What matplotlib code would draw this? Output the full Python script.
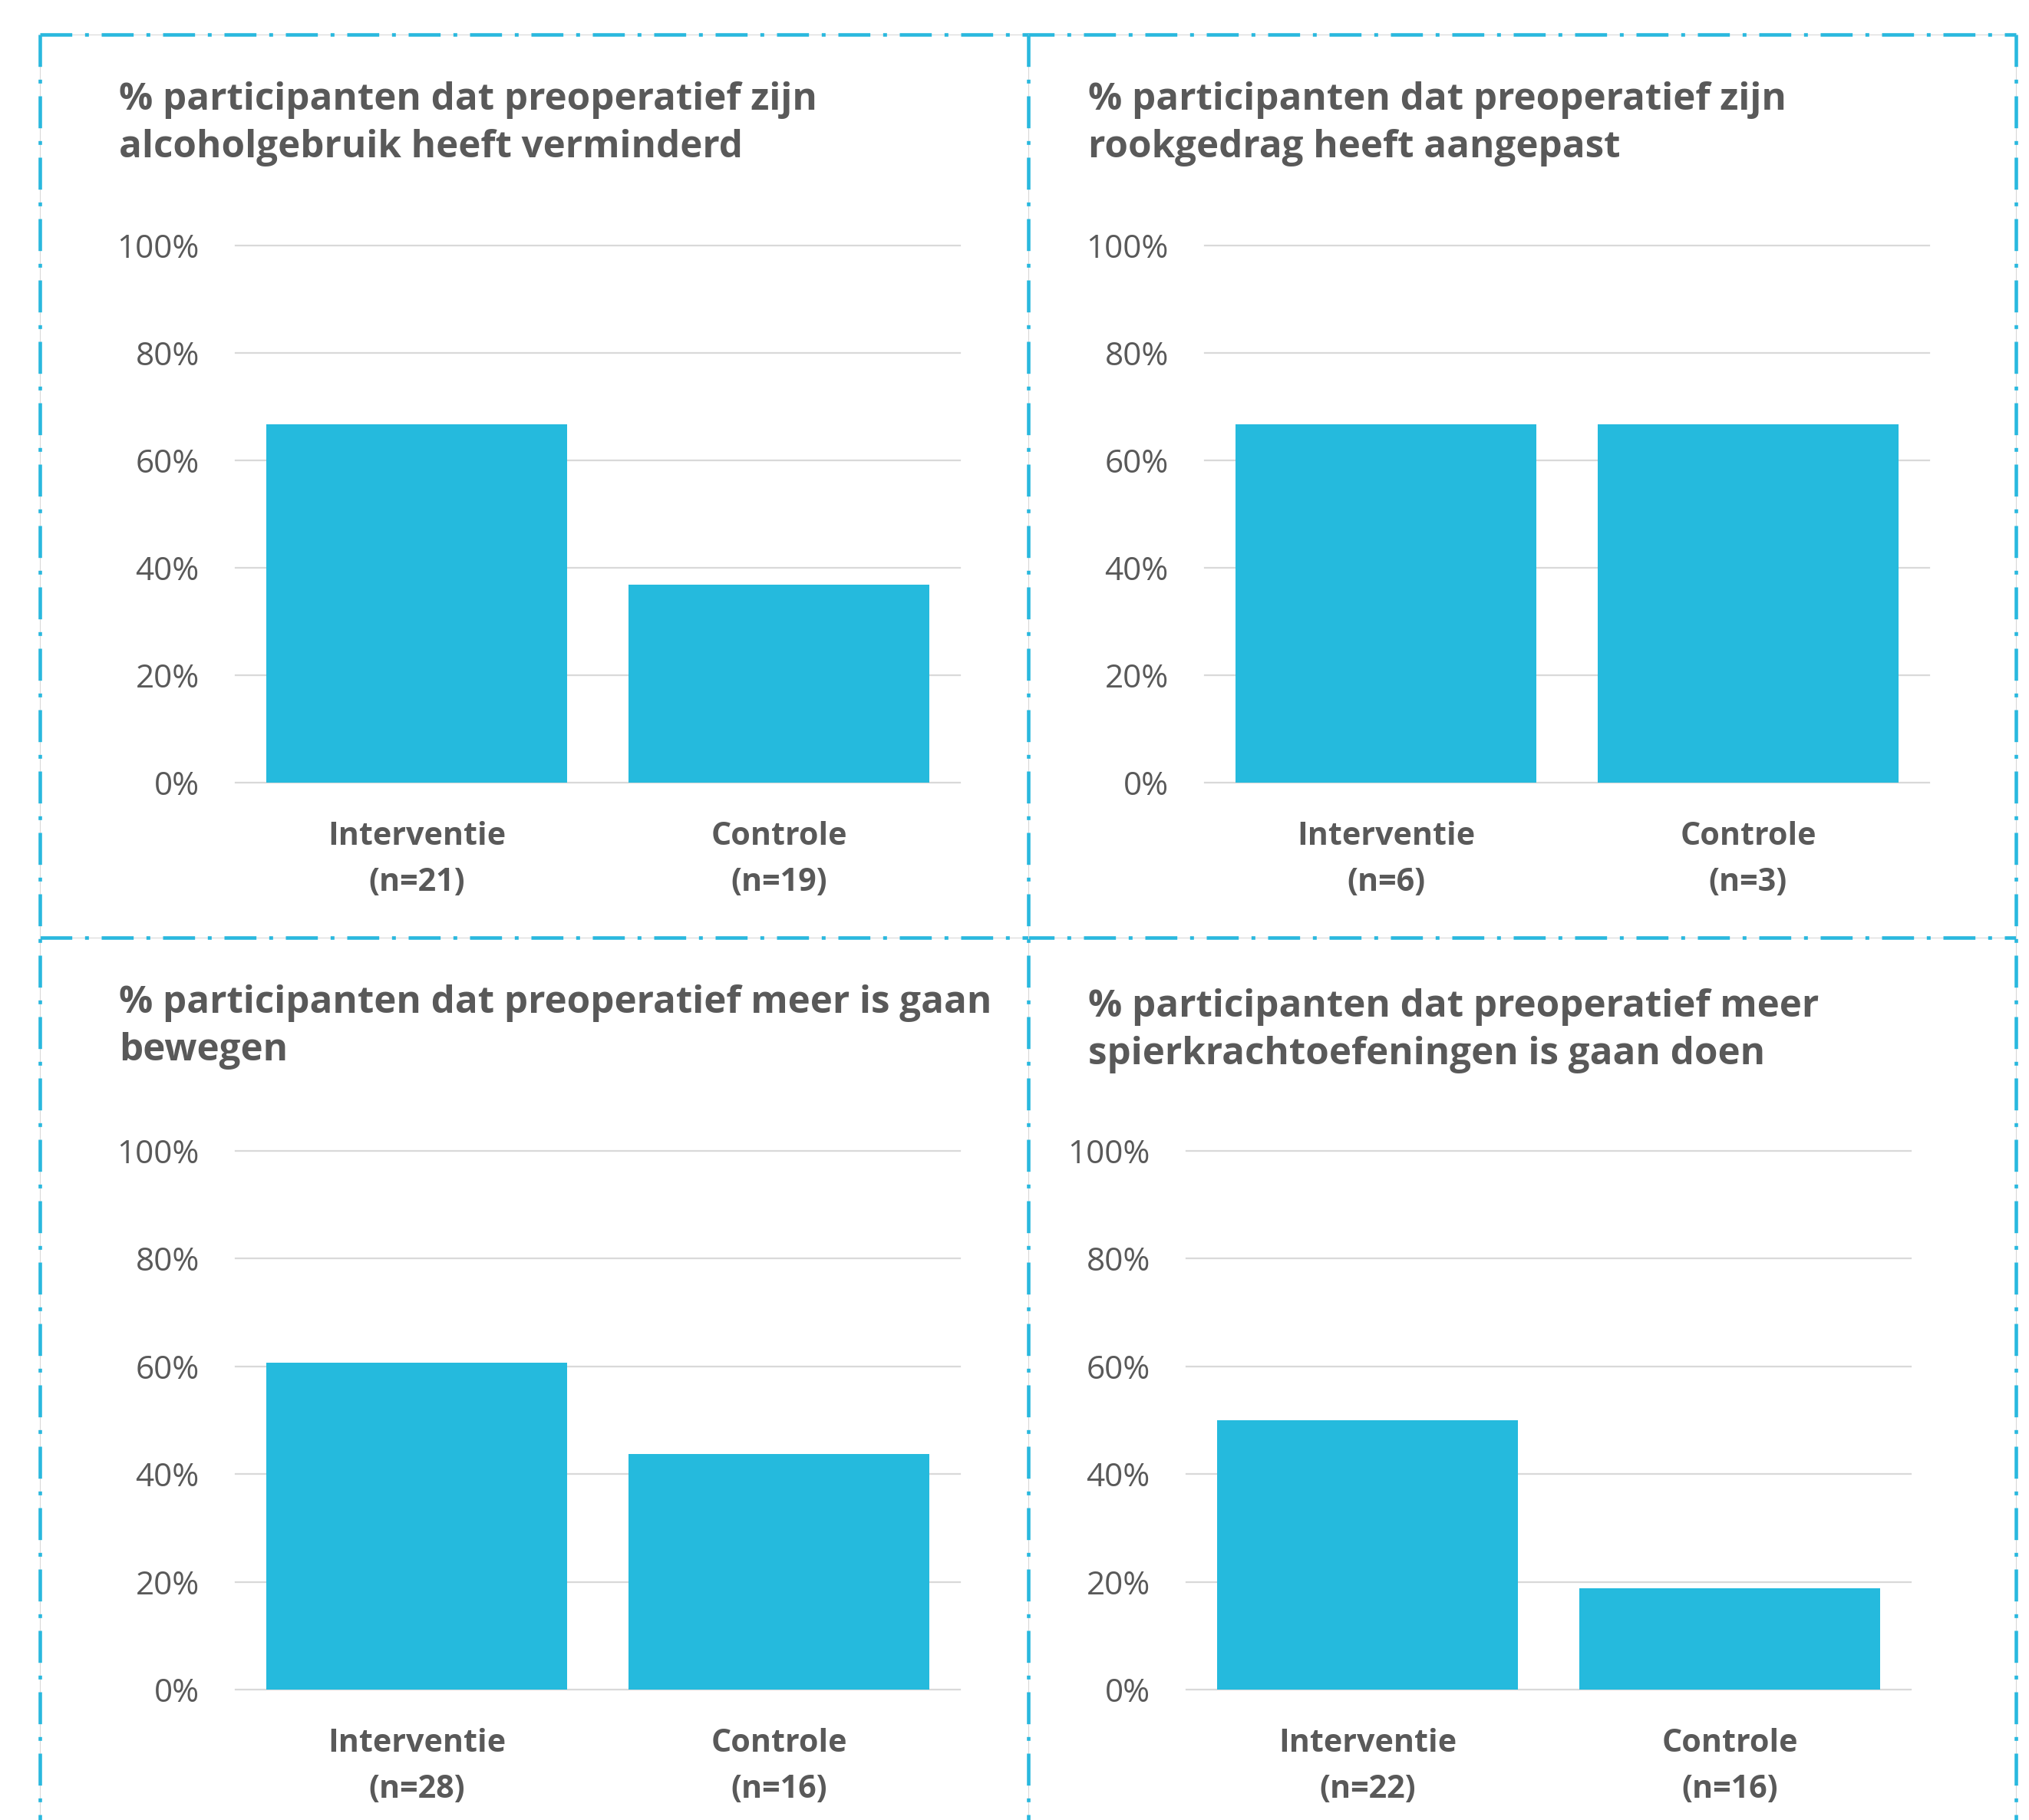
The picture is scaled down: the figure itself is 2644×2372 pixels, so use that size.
import matplotlib
matplotlib.use("Agg")
import matplotlib.pyplot as plt
from matplotlib.lines import Line2D

# data
titles = [
    "% participanten dat preoperatief zijn\nalcoholgebruik heeft verminderd",
    "% participanten dat preoperatief zijn\nrookgedrag heeft aangepast",
    "% participanten dat preoperatief meer is gaan\nbewegen",
    "% participanten dat preoperatief meer\nspierkrachtoefeningen is gaan doen",
]
groups = ["Interventie", "Controle"]
n_interventie = [21, 6, 28, 22]
n_controle = [19, 3, 16, 16]
pct_interventie = [66.7, 66.7, 60.7, 50.0]
pct_controle = [36.8, 66.7, 43.8, 18.8]
y_ticks = [0, 20, 40, 60, 80, 100]

BAR = "#25BADD"
GRID = "#D9D9D9"
TEXT = "#595959"
FRAME = "#29B8DE"
FONT = "Open Sans"

W, H = 2644, 2372
plt.rcParams["font.family"] = [FONT, "DejaVu Sans"]
plt.rcParams["lines.scale_dashes"] = False

fig = plt.figure(figsize=(W / 100, H / 100), dpi=100)
fig.patch.set_facecolor("white")


def box(left, right, top, bottom):
    return [left / W, 1 - bottom / H, (right - left) / W, (bottom - top) / H]


# pixel boxes of the four plot areas (left, right, top, bottom)
areas = [
    (307, 1251, 320, 1020),
    (1570, 2514, 320, 1020),
    (307, 1251, 1500, 2202),
    (1546, 2490, 1500, 2202),
]
title_pos = [(155, 106), (1418, 106), (155, 1283), (1418, 1288)]

for i, (l, r, t, b) in enumerate(areas):
    ax = fig.add_axes(box(l, r, t, b))
    vals = [pct_interventie[i], pct_controle[i]]
    ax.bar([0, 1], vals, width=0.83, color=BAR, zorder=3)
    ax.set_xlim(-0.5, 1.5)
    ax.set_ylim(0, 100)
    for yv in y_ticks:
        ax.axhline(yv, color=GRID, lw=1.6, zorder=1, clip_on=False)
    ax.set_yticks(y_ticks)
    ax.set_yticklabels([f"{v}%" for v in y_ticks], fontsize=30.4, color=TEXT)
    ax.set_xticks([0, 1])
    ax.set_xticklabels(
        [f"{groups[0]}\n(n={n_interventie[i]})", f"{groups[1]}\n(n={n_controle[i]})"],
        fontsize=29.7, fontweight="bold", color=TEXT, linespacing=1.62,
    )
    ax.tick_params(axis="y", length=0, pad=34)
    ax.tick_params(axis="x", length=0, pad=36)
    for s in ax.spines.values():
        s.set_visible(False)
    ax.set_facecolor("none")
    tx, ty = title_pos[i]
    fig.text(tx / W, 1 - ty / H, titles[i], fontsize=35.5, fontweight="bold",
             color=TEXT, va="top", ha="left", linespacing=1.36)

# dash-dot frame around the panels
dash = (0, (30, 12, 3.6, 12))
frame_lines = [
    ([52, 2627], [45, 45]),
    ([52, 2627], [1222, 1222]),
    ([52, 52], [45, H]),
    ([1340, 1340], [45, H]),
    ([2627, 2627], [45, H]),
]
for xs, ys in frame_lines:
    fx = [x / W for x in xs]
    fy = [1 - y / H for y in ys]
    fig.add_artist(Line2D(fx, fy, color=GRID, lw=0.8, transform=fig.transFigure))
    fig.add_artist(Line2D(fx, fy, color=FRAME, lw=3.3, linestyle=dash,
                          dash_capstyle="butt", transform=fig.transFigure))

fig.savefig("out.png", dpi=100)
